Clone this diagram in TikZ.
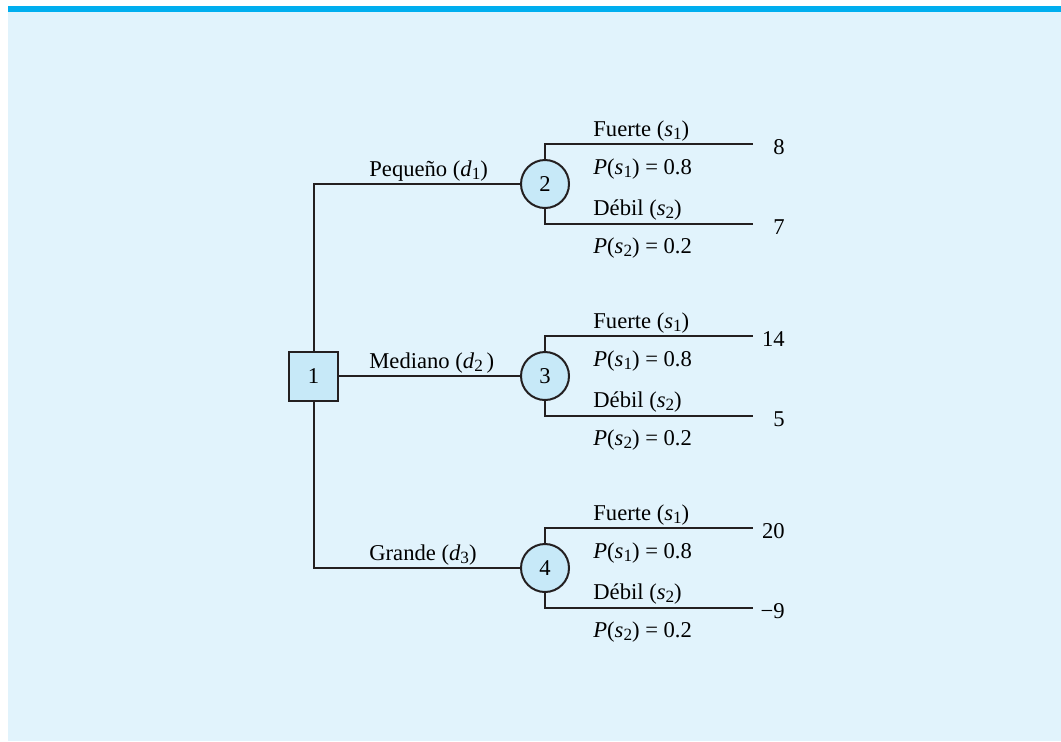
\documentclass[tikz,border=0pt]{standalone}
\usepackage{fontspec}
\setmainfont{Liberation Serif}
\usetikzlibrary{positioning}
\definecolor{bgblue}{HTML}{E1F3FC}
\definecolor{barblue}{HTML}{00AEEF}
\definecolor{nodeblue}{HTML}{C7E9F8}
\definecolor{ink}{HTML}{231F20}
\newcommand{\treefont}{\fontsize{11.3}{13.5}\selectfont}
\newcommand{\lowidx}[1]{\raisebox{-0.32ex}{\fontsize{8.6}{10}\selectfont #1}}
\newcommand{\dsub}[1]{\textit{d}\lowidx{#1}}
\newcommand{\ssub}[1]{\textit{s}\lowidx{#1}}
\newcommand{\eqsign}{\hspace{0.25em}=\hspace{0.25em}}
\tikzset{
  decnode/.style={rectangle,draw=ink,fill=nodeblue,line width=1pt,
    minimum size=24.5pt,inner sep=0pt,font=\treefont},
  chnode/.style={circle,draw=ink,fill=nodeblue,line width=1pt,
    minimum size=24pt,inner sep=0pt,font=\treefont},
  br/.style={draw=ink,line width=1pt},
  lbl/.style={anchor=base west,inner sep=0pt,font=\treefont},
  payoff/.style={anchor=east,inner sep=0pt,font=\treefont}
}

\begin{document}
\begin{tikzpicture}[x=0.5pt,y=-0.5pt]

% Frame
\useasboundingbox (0,0) rectangle (1061,741);
\fill[white] (0,0) rectangle (1061,741);
\fill[bgblue] (8,12) rectangle (1061,741);
\fill[barblue] (8,6) rectangle (1061,12);

% Decision and chance nodes
\node[decnode] (n1) at (313.5,376) {1};
\node[chnode] (n2) at (545,184) {2};
\node[chnode] (n3) at (545,376) {3};
\node[chnode] (n4) at (545,568) {4};

% Branch ends
\coordinate (e2a) at (753,144);
\coordinate (e2b) at (753,224);
\coordinate (e3a) at (753,336);
\coordinate (e3b) at (753,416);
\coordinate (e4a) at (753,528);
\coordinate (e4b) at (753,608);

% Decisions
\draw[br] (n1.north) |- (n2.west);
\draw[br] (n1.east) -- (n3.west);
\draw[br] (n1.south) |- (n4.west);
\node[lbl] (d1) at (369,176) {Pequeño (\dsub{1})};
\node[lbl] (d2) at (369,368) {Mediano (\dsub{2}\,)};
\node[lbl] (d3) at (369,560) {Grande (\dsub{3})};

% Node 2
\draw[br] (n2.north) |- (e2a);
\draw[br] (n2.south) |- (e2b);
\node[lbl] (f2) at (593,136) {Fuerte (\ssub{1})};
\node[lbl] (p2a) at (593,174) {\textit{P}(\ssub{1})\eqsign 0.8};
\node[lbl] (w2) at (593,215) {Débil (\ssub{2})};
\node[lbl] (p2b) at (593,253) {\textit{P}(\ssub{2})\eqsign 0.2};
\node[payoff] (v2a) at (785,147) {8};
\node[payoff] (v2b) at (785,227) {7};

% Node 3
\draw[br] (n3.north) |- (e3a);
\draw[br] (n3.south) |- (e3b);
\node[lbl] (f3) at (593,328) {Fuerte (\ssub{1})};
\node[lbl] (p3a) at (593,366) {\textit{P}(\ssub{1})\eqsign 0.8};
\node[lbl] (w3) at (593,407) {Débil (\ssub{2})};
\node[lbl] (p3b) at (593,445) {\textit{P}(\ssub{2})\eqsign 0.2};
\node[payoff] (v3a) at (785,339) {14};
\node[payoff] (v3b) at (785,419) {5};

% Node 4
\draw[br] (n4.north) |- (e4a);
\draw[br] (n4.south) |- (e4b);
\node[lbl] (f4) at (593,520) {Fuerte (\ssub{1})};
\node[lbl] (p4a) at (593,558) {\textit{P}(\ssub{1})\eqsign 0.8};
\node[lbl] (w4) at (593,599) {Débil (\ssub{2})};
\node[lbl] (p4b) at (593,637) {\textit{P}(\ssub{2})\eqsign 0.2};
\node[payoff] (v4a) at (785,531) {20};
\node[payoff] (v4b) at (785,611) {−9};

\end{tikzpicture}
\end{document}
